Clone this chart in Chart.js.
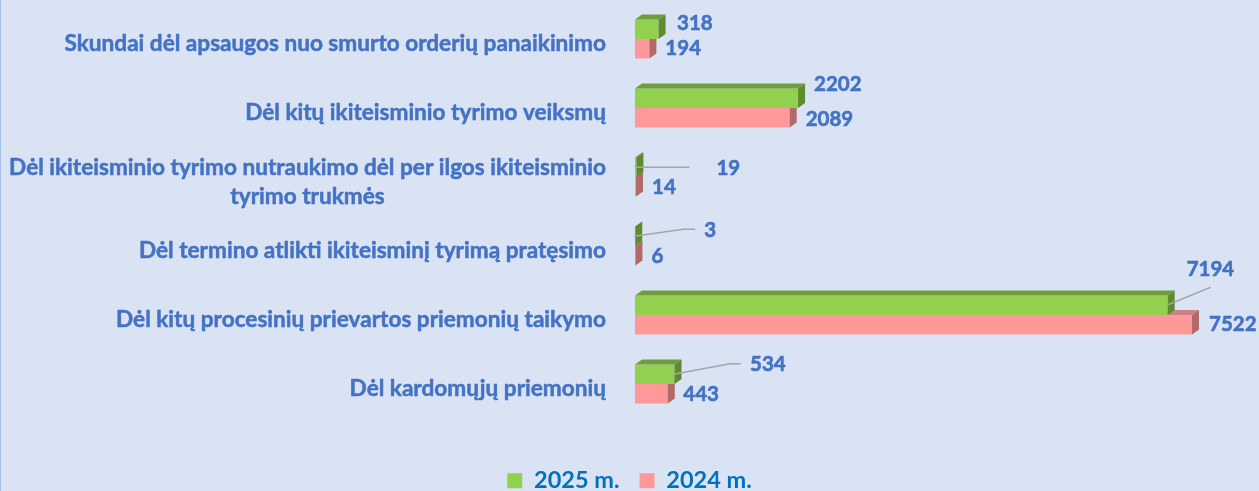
<!DOCTYPE html>
<html><head><meta charset="utf-8">
<script src="https://cdn.jsdelivr.net/npm/chart.js@4/dist/chart.umd.min.js"></script>
<style>html,body{margin:0;padding:0;background:#dae3f3;overflow:hidden}#wrap{width:1259px;height:491px;position:relative}canvas{display:block}</style>
</head><body><div id="wrap"><canvas id="c" width="1259" height="491"></canvas></div>
<script>
// ---- data ----
const categories = [
  ["Skundai dėl apsaugos nuo smurto orderių panaikinimo"],
  ["Dėl kitų ikiteisminio tyrimo veiksmų"],
  ["Dėl ikiteisminio tyrimo nutraukimo dėl per ilgos ikiteisminio", "tyrimo trukmės"],
  ["Dėl termino atlikti ikiteisminį tyrimą pratęsimo"],
  ["Dėl kitų procesinių prievartos priemonių taikymo"],
  ["Dėl kardomųjų priemonių"]
];
const seriesNames = ["2025 m.", "2024 m."];
const values2025 = [318, 2202, 19, 3, 7194, 534];
const values2024 = [194, 2089, 14, 6, 7522, 443];

// ---- styling / label placement (not data) ----
const colors = {
  bg: "#dae3f3",
  label: "#4472c4",
  legend: "#0070c0",
  greenFront: "#92d050", greenTop: "#6f9d3b", greenSide: "#5f8b2f",
  pinkFront: "#ff9999", pinkTop: "#c98383", pinkSide: "#b06a6a",
  leader: "#a6a6a6"
};
const DEPTH_X = 7, DEPTH_Y = 5;
const labelOffsets = [
  [[18.5, -6], [16, -14], [80, 1], [69, -6], [19, -36], [75.5, -9.5]],
  [[16, 0], [16, 1.5], [16, 1], [16, 1], [17, 0], [15.5, 1]]
];
const leaders = [
  [null, null, [[-27, -1]], [[-21, -1], [-9, -1]], [[24, 18]], [[-20, -1], [-9, -1]]],
  [null, null, null, null, null, null]
];

const bgPlugin = {
  id: "bg",
  beforeDraw(chart) {
    const ctx = chart.ctx;
    ctx.save();
    ctx.fillStyle = colors.bg;
    ctx.fillRect(0, 0, chart.width, chart.height);
    ctx.strokeStyle = "#a9c1e8";
    ctx.lineWidth = 1;
    ctx.beginPath(); ctx.moveTo(0.5, 0); ctx.lineTo(0.5, chart.height); ctx.stroke();
    ctx.restore();
  }
};

const depthPlugin = {
  id: "depth",
  afterDatasetDraw(chart, args) {
    const ctx = chart.ctx;
    const meta = chart.getDatasetMeta(args.index);
    const top = args.index === 0 ? colors.greenTop : colors.pinkTop;
    const side = args.index === 0 ? colors.greenSide : colors.pinkSide;
    ctx.save();
    meta.data.forEach(el => {
      const p = el.getProps(["x", "y", "base", "height"], true);
      const t = p.y - p.height / 2, b = p.y + p.height / 2;
      ctx.fillStyle = top;
      ctx.beginPath();
      ctx.moveTo(p.base, t); ctx.lineTo(p.x, t);
      ctx.lineTo(p.x + DEPTH_X, t - DEPTH_Y); ctx.lineTo(p.base + DEPTH_X, t - DEPTH_Y);
      ctx.closePath(); ctx.fill();
      ctx.fillStyle = side;
      ctx.beginPath();
      ctx.moveTo(p.x, t); ctx.lineTo(p.x + DEPTH_X, t - DEPTH_Y);
      ctx.lineTo(p.x + DEPTH_X, b - DEPTH_Y); ctx.lineTo(p.x, b);
      ctx.closePath(); ctx.fill();
    });
    ctx.restore();
  }
};

function boldText(ctx, s, x, y) {
  ctx.fillText(s, x, y);
  ctx.strokeText(s, x, y);
}

const labelsPlugin = {
  id: "labels",
  afterDatasetsDraw(chart) {
    const ctx = chart.ctx;
    ctx.save();
    ctx.font = "bold 20.5px Lato";
    ctx.textBaseline = "middle";
    ctx.textAlign = "left";
    chart.data.datasets.forEach((ds, di) => {
      const meta = chart.getDatasetMeta(di);
      meta.data.forEach((el, i) => {
        const p = el.getProps(["x", "y"], true);
        const off = labelOffsets[di][i];
        const tx = p.x + off[0], ty = p.y + off[1];
        const ld = leaders[di][i];
        if (ld) {
          ctx.strokeStyle = colors.leader;
          ctx.lineWidth = 1.5;
          ctx.beginPath();
          ctx.moveTo(p.x - 1, p.y);
          ld.forEach(pt => ctx.lineTo(tx + pt[0], ty + pt[1]));
          ctx.stroke();
        }
        ctx.fillStyle = colors.label;
        ctx.strokeStyle = colors.label;
        ctx.lineWidth = 0.6;
        boldText(ctx, String(ds.data[i]), tx, ty);
      });
    });
    const ys = chart.scales.y;
    const right = chart.chartArea.left - 29;
    ctx.font = "bold 22.6px Lato";
    ctx.textBaseline = "alphabetic";
    ctx.fillStyle = colors.label;
    ctx.strokeStyle = colors.label;
    ctx.lineWidth = 0.5;
    categories.forEach((lines, i) => {
      const cy = ys.getPixelForValue(i);
      if (lines.length === 1) {
        ctx.textAlign = "right";
        boldText(ctx, lines[0], right, cy + 12);
      } else {
        const w1 = ctx.measureText(lines[0]).width;
        const cx = right - w1 / 2;
        ctx.textAlign = "center";
        boldText(ctx, lines[0], cx, cy - 2);
        boldText(ctx, lines[1], cx, cy + 27);
      }
    });
    ctx.restore();
  }
};

new Chart(document.getElementById("c"), {
  type: "bar",
  data: {
    labels: categories.map(l => l.join(" ")),
    datasets: [
      { label: seriesNames[0], data: values2025, backgroundColor: colors.greenFront, borderWidth: 0 },
      { label: seriesNames[1], data: values2024, backgroundColor: colors.pinkFront, borderWidth: 0 }
    ]
  },
  options: {
    indexAxis: "y",
    responsive: false,
    animation: false,
    events: [],
    layout: { padding: { top: 4.5, right: 0, bottom: 0, left: 0 } },
    datasets: { bar: { categoryPercentage: 0.566, barPercentage: 1 } },
    scales: {
      x: {
        min: 0, max: 8427,
        grid: { display: false }, border: { display: false },
        ticks: { display: false },
        afterFit(s) { s.height = 30.5; }
      },
      y: {
        grid: { display: false }, border: { display: false },
        ticks: { display: false },
        afterFit(s) { s.width = 635; }
      }
    },
    plugins: {
      tooltip: { enabled: false },
      legend: {
        position: "bottom",
        maxHeight: 42,
        labels: {
          boxWidth: 15, boxHeight: 15, padding: 20,
          color: colors.legend,
          font: { family: "Lato", weight: "bold", size: 23.5 }
        }
      }
    }
  },
  plugins: [bgPlugin, depthPlugin, labelsPlugin]
});
</script>
</body></html>
